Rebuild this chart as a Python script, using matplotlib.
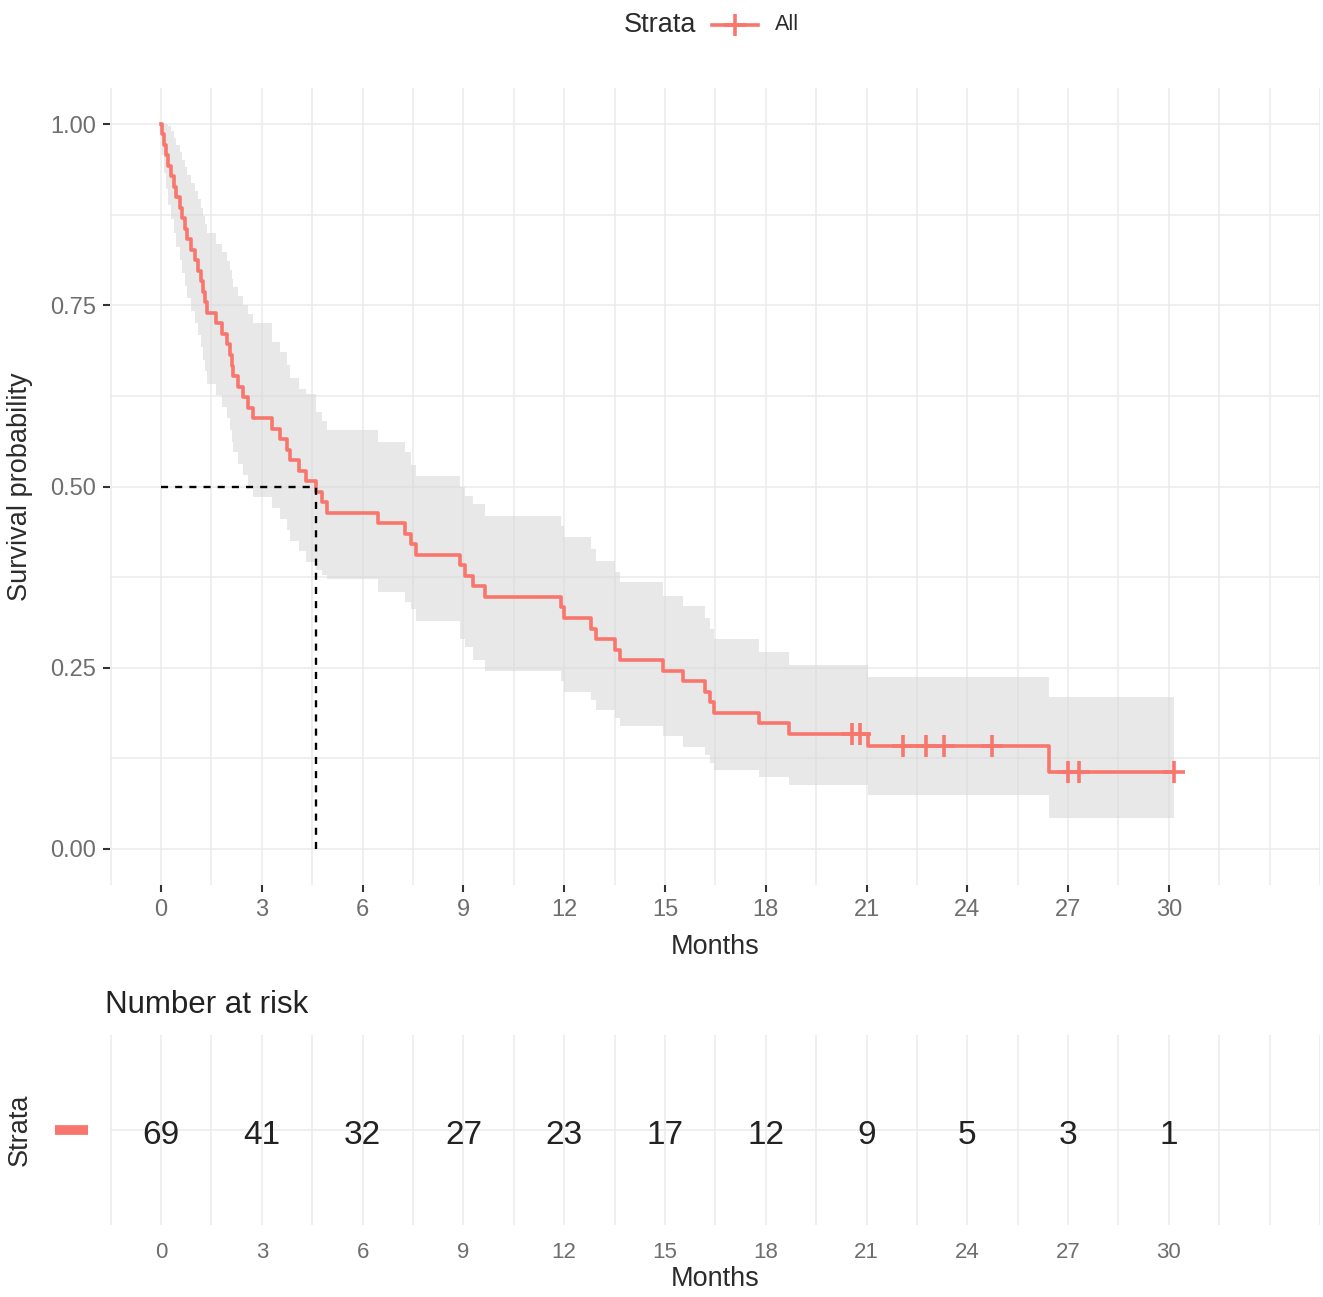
import numpy as np
import matplotlib
matplotlib.use('Agg')
from matplotlib import pyplot as plt
from matplotlib.lines import Line2D

plt.rcParams['font.family'] = ['Liberation Sans', 'DejaVu Sans']

# Kaplan-Meier steps (months, survival, lower CI, upper CI)
times = [0, 0.03, 0.08, 0.15, 0.22, 0.30, 0.38, 0.45, 0.55, 0.62, 0.70, 0.78, 0.88,
         1.00, 1.10, 1.20, 1.26, 1.31, 1.37, 1.65, 1.80, 1.97, 2.05, 2.10, 2.14,
         2.30, 2.45, 2.60, 2.74, 3.30, 3.55, 3.75, 3.85, 4.10, 4.30, 4.60, 4.80,
         4.94, 6.47, 7.27, 7.45, 7.60, 8.90, 9.05, 9.30, 9.65, 11.90, 12.00, 12.80,
         12.95, 13.50, 13.65, 14.95, 15.55, 16.20, 16.35, 16.45, 17.80, 18.70,
         21.03, 26.42]
surv = [1.0, 0.986, 0.971, 0.957, 0.942, 0.928, 0.913, 0.899, 0.884, 0.870, 0.855,
        0.841, 0.826, 0.812, 0.797, 0.783, 0.768, 0.754, 0.739, 0.725, 0.710, 0.696,
        0.681, 0.667, 0.652, 0.638, 0.623, 0.609, 0.594, 0.580, 0.565, 0.551, 0.536,
        0.522, 0.507, 0.493, 0.478, 0.464, 0.449, 0.435, 0.420, 0.406, 0.391, 0.377,
        0.362, 0.348, 0.333, 0.319, 0.304, 0.290, 0.275, 0.261, 0.246, 0.232, 0.217,
        0.203, 0.188, 0.174, 0.159, 0.1415, 0.106]
lower = [1.0, 0.958, 0.932, 0.910, 0.889, 0.869, 0.850, 0.831, 0.813, 0.795, 0.777,
         0.760, 0.742, 0.725, 0.709, 0.692, 0.675, 0.659, 0.642, 0.626, 0.610, 0.594,
         0.578, 0.562, 0.547, 0.531, 0.516, 0.500, 0.485, 0.470, 0.455, 0.440, 0.425,
         0.411, 0.396, 0.385, 0.378, 0.372, 0.354, 0.340, 0.331, 0.315, 0.290, 0.279,
         0.261, 0.245, 0.232, 0.217, 0.205, 0.192, 0.180, 0.169, 0.155, 0.141, 0.130,
         0.119, 0.109, 0.0996, 0.0885, 0.0747, 0.043]
upper = [1.0, 1.0, 1.0, 1.0, 0.998, 0.990, 0.981, 0.971, 0.961, 0.951, 0.941, 0.930,
         0.919, 0.908, 0.897, 0.885, 0.874, 0.862, 0.850, 0.835, 0.823, 0.811, 0.799,
         0.787, 0.775, 0.763, 0.750, 0.738, 0.725, 0.700, 0.685, 0.668, 0.650, 0.635,
         0.628, 0.603, 0.590, 0.578, 0.562, 0.548, 0.530, 0.515, 0.500, 0.487, 0.476,
         0.459, 0.445, 0.430, 0.414, 0.397, 0.382, 0.368, 0.349, 0.335, 0.318, 0.303,
         0.289, 0.271, 0.254, 0.237, 0.210]
end_time = 30.15

censor_t = [20.58, 20.82, 22.10, 22.76, 23.30, 24.75, 27.00, 27.32, 30.15]
censor_s = [0.159, 0.159, 0.1415, 0.1415, 0.1415, 0.1415, 0.106, 0.106, 0.106]

median_t = 4.6

risk_t = [0, 3, 6, 9, 12, 15, 18, 21, 24, 27, 30]
risk_n = [69, 41, 32, 27, 23, 17, 12, 9, 5, 3, 1]

red = '#F8766D'
grid_c = '#ebebeb'
W, H = 1323, 1297
xlim = (-1.52, 34.5)

fig = plt.figure(figsize=(W/100, H/100), dpi=100)

# ---- survival curve panel
ax = fig.add_axes([110/W, 1-885/H, 1210/W, 797/H])
t_ext = times + [end_time]
s_ext = surv + [surv[-1]]
lo_ext = lower + [lower[-1]]
hi_ext = upper + [upper[-1]]
ax.fill_between(t_ext, lo_ext, hi_ext, step='post', color='#d6d6d6', alpha=0.55,
                lw=0, zorder=2)
ax.step(t_ext, s_ext, where='post', color=red, lw=2.6, zorder=3)
ax.plot(censor_t, censor_s, ls='none', marker='+', ms=16, mew=2.6, color=red, zorder=4)
ax.plot([0, median_t], [0.5, 0.5], ls=(0, (3, 3)), color='black', lw=1.7, zorder=5)
ax.plot([median_t, median_t], [0, 0.5], ls=(0, (3, 3)), color='black', lw=1.7, zorder=5)

ax.set_xlim(xlim)
ax.set_ylim(-0.05, 1.05)
ax.set_xticks(risk_t)
ax.set_xticks(np.arange(-1.5, 34.6, 1.5), minor=True)
ax.set_yticks([0, 0.25, 0.5, 0.75, 1.0])
ax.set_yticklabels(['0.00', '0.25', '0.50', '0.75', '1.00'])
ax.set_yticks([0.125, 0.375, 0.625, 0.875], minor=True)
ax.grid(True, which='both', color=grid_c, lw=1.1, zorder=0)
ax.set_axisbelow(True)
for s in ax.spines.values():
    s.set_visible(False)
ax.tick_params(which='major', length=5, width=1.5, color='#333333',
               labelsize=17, labelcolor='#6e6e6e', pad=5)
ax.tick_params(which='minor', length=0)
ax.set_xlabel('Months', fontsize=19.5, color='#2b2b2b')
ax.set_ylabel('Survival probability', fontsize=19.5, color='#2b2b2b')
ax.xaxis.set_label_coords(0.5, -0.062)
ax.yaxis.set_label_coords(-0.064, 0.5)

# ---- legend on top
fig.text(660/W, 1-25/H, 'Strata', fontsize=19.5, color='#2b2b2b', ha='center', va='center')
fig.add_artist(Line2D([712/W, 758/W], [1-25/H, 1-25/H], color=red, lw=2.6))
fig.add_artist(Line2D([735/W], [1-25/H], color=red, marker='+', ms=16, mew=2.6))
fig.text(775/W, 1-25/H, 'All', fontsize=15.5, color='#2b2b2b', ha='left', va='center')

# ---- risk table
ax2 = fig.add_axes([110/W, 1-1225/H, 1210/W, 190/H])
for t, n in zip(risk_t, risk_n):
    ax2.text(t, 0.47, str(n), fontsize=24, color='#222222', ha='center', va='center')
ax2.set_xlim(xlim)
ax2.set_ylim(0, 1)
ax2.set_xticks(risk_t)
ax2.set_xticks(np.arange(-1.5, 34.6, 1.5), minor=True)
ax2.set_yticks([0.5])
ax2.set_yticklabels([''])
ax2.grid(True, which='both', axis='x', color=grid_c, lw=1.1, zorder=0)
ax2.grid(True, which='major', axis='y', color=grid_c, lw=1.1, zorder=0)
for s in ax2.spines.values():
    s.set_visible(False)
ax2.tick_params(which='both', length=0, labelsize=16, labelcolor='#6e6e6e', pad=12)
ax2.set_xlabel('Months', fontsize=19.5, color='#2b2b2b')
ax2.set_ylabel('Strata', fontsize=19.5, color='#2b2b2b')
ax2.xaxis.set_label_coords(0.5, -0.215)
ax2.yaxis.set_label_coords(-0.064, 0.5)
fig.add_artist(Line2D([55/W, 88/W], [1-1130/H, 1-1130/H], color=red, lw=7,
                      solid_capstyle='butt'))
fig.text(105/W, 1-1005/H, 'Number at risk', fontsize=22.5, color='#222222',
         ha='left', va='center')

fig.savefig('out.png', dpi=100)
